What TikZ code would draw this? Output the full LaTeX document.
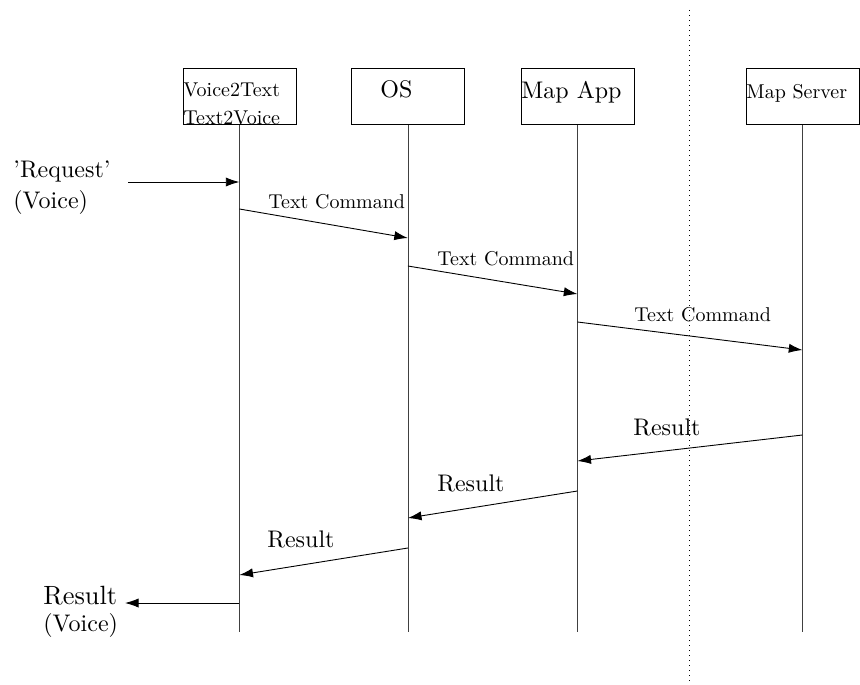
\documentclass[tikz,border=0pt]{standalone}
\usepackage{fontspec}
\setmainfont{lmroman10-regular.otf}
\usetikzlibrary{arrows.meta}
\begin{document}
\begin{tikzpicture}[x=0.5pt,y=-0.5pt,
  box/.style={draw, line width=0.4pt, minimum width=56.5pt, minimum height=28pt, inner sep=0pt, anchor=north west},
  lbl/.style={anchor=base west, inner sep=0pt},
  lifeline/.style={line width=0.4pt, draw=black!75},
  msg/.style={line width=0.45pt, -{Latex[length=6.8pt,width=4.6pt]}},
  small/.style={font=\fontsize{10}{12}\selectfont},
  mid/.style={font=\fontsize{12}{14}\selectfont},
  big/.style={font=\fontsize{13.2}{16}\selectfont}]
\useasboundingbox (0,0) rectangle (860,684);
% boxes
\node[box] (v) at (182.5,68.5) {};
\node[box] (os) at (351,68.5) {};
\node[box] (app) at (520.5,68.5) {};
\node[box] (srv) at (745.5,68.5) {};
% box texts
\node[lbl,small] (vt1) at (183,96.7) {Voice2Text};
\node[lbl,small] (vt2) at (183,124.3) {Text2Voice};
\node[lbl,mid] (ost) at (380,97.7) {OS};
\node[lbl,mid] (appt) at (521,98.5) {Map App};
\node[lbl,small] (srvt) at (746,98.3) {Map Server};
% lifeline ends
\coordinate (ve) at (v.south |- 0,632);
\coordinate (ose) at (os.south |- 0,632);
\coordinate (appe) at (app.south |- 0,632);
\coordinate (srve) at (srv.south |- 0,632);
\draw[lifeline] (v.south) -- (ve);
\draw[lifeline] (os.south) -- (ose);
\draw[lifeline] (app.south) -- (appe);
\draw[lifeline] (srv.south) -- (srve);
% dotted separator
\coordinate (dtop) at (689.3,10);
\coordinate (dbot) at (689.3,684);
\draw[dotted, line width=0.5pt] (dtop) -- (dbot);
% message points
\coordinate (v1) at (v.south |- 0,209);
\coordinate (os1) at (os.south |- 0,238);
\coordinate (os2) at (os.south |- 0,266);
\coordinate (app2) at (app.south |- 0,294);
\coordinate (app3) at (app.south |- 0,322);
\coordinate (srv3) at (srv.south |- 0,350);
\coordinate (srv4) at (srv.south |- 0,435);
\coordinate (app4) at (app.south |- 0,461);
\coordinate (app5) at (app.south |- 0,491);
\coordinate (os5) at (os.south |- 0,518);
\coordinate (os6) at (os.south |- 0,548);
\coordinate (v6) at (v.south |- 0,575);
\coordinate (vin) at (v.south |- 0,182);
\coordinate (vout) at (v.south |- 0,603);
% request / result texts
\node[lbl,mid] (req) at (13,177) {'Request'};
\node[lbl,mid] (reqv) at (13,208) {(Voice)};
\node[lbl,big] (res) at (43,604) {Result};
\node[lbl,mid] (resv) at (43,631) {(Voice)};
\coordinate (reqs) at (128,182);
\coordinate (rese) at (125,603);
\draw[msg] (reqs) -- (vin);
\draw[msg] (vout) -- (rese);
% messages
\draw[msg] (v1) -- (os1);
\draw[msg] (os2) -- (app2);
\draw[msg] (app3) -- (srv3);
\draw[msg] (srv4) -- (app4);
\draw[msg] (app5) -- (os5);
\draw[msg] (os6) -- (v6);
% message labels
\node[lbl,small] (tc1) at (268,208) {Text Command};
\node[lbl,small] (tc2) at (437,265.5) {Text Command};
\node[lbl,small] (tc3) at (634,321.7) {Text Command};
\node[lbl,mid] (r1) at (633,435) {Result};
\node[lbl,mid] (r2) at (437,491) {Result};
\node[lbl,mid] (r3) at (267,547.5) {Result};
\end{tikzpicture}
\end{document}
